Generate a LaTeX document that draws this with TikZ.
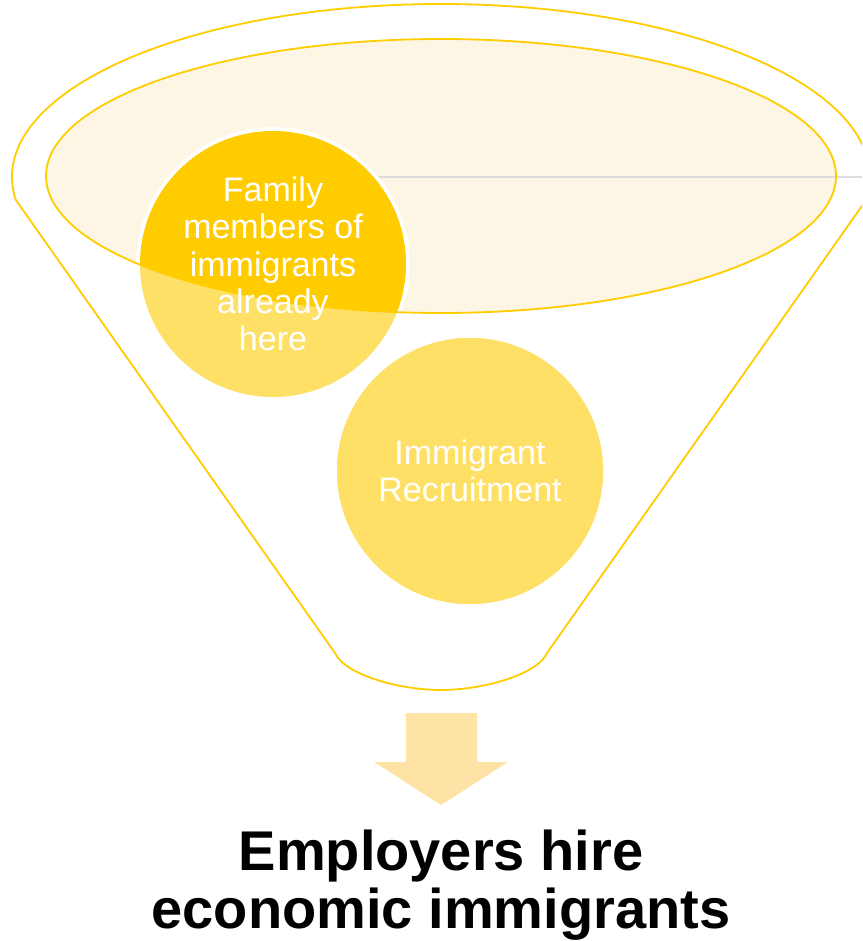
\documentclass[tikz,border=0pt]{standalone}
\usepackage{fontspec}
\setmainfont{Liberation Sans}
\definecolor{funnelyellow}{HTML}{FFCC00}
\definecolor{creamfill}{HTML}{FEF6E4}
\definecolor{lightyellow}{HTML}{FFE066}
\definecolor{arrowcol}{HTML}{FFE3A6}
\definecolor{guidegray}{HTML}{DCDCDC}
\tikzset{
  funnelline/.style={draw=funnelyellow, line width=1.8},
  bubble/.style={circle, minimum size=270, inner sep=0, fill=lightyellow, draw=white, line width=3.5},
  bubbletext/.style={text=white, align=center, font=\fontsize{34}{37.3}\selectfont},
  resulttext/.style={font=\fontsize{56}{58}\selectfont\bfseries, text=black, anchor=base},
}
\begin{document}
\begin{tikzpicture}[x=1pt,y=-1pt]
\useasboundingbox (0,0) rectangle (862,941);
\clip (0,0) rectangle (862,941);
% funnel outline
\draw[funnelline] ([shift={(441,177)}]172.4:429 and 173) coordinate (fl)
  arc[start angle=172.4, end angle=367.6, x radius=429, y radius=173] coordinate (fr)
  -- (547,653) .. controls (537,675) and (482,690) .. (441,690)
  .. controls (400,690) and (345,675) .. (335,653) -- cycle;
% inner ellipse fill
\fill[creamfill] (441,176) ellipse [x radius=395, y radius=137];
% gray guide line
\coordinate (gl) at (273,177);
\coordinate (gr) at (862,177);
\draw[guidegray, line width=2] (gl) -- (gr);
% bubble 1
\node[bubble] (b1) at (273,264) {};
\begin{scope}
  \clip (441,176) ellipse [x radius=395, y radius=137];
  \fill[funnelyellow] (273,264) circle [radius=133];
\end{scope}
\draw[white, line width=3.5] (273,264) circle [radius=135];
% inner ellipse outline
\draw[funnelline] (441,176) ellipse [x radius=395, y radius=137];
\node[bubbletext] (t1) at (b1.center) {Family\\members of\\immigrants\\already\\here};
% bubble 2
\node[bubble] (b2) at (470,471) {};
\node[bubbletext] (t2) at (b2.center) {Immigrant\\Recruitment};
% arrow
\fill[arrowcol] (406,713) -- (477,713) -- (477,762) -- (508,762) -- (441,805) -- (374,762) -- (406,762) -- cycle;
% result text
\node[resulttext] (r1) at (441,870) {Employers hire};
\node[resulttext] (r2) at (441,928) {economic immigrants};
\end{tikzpicture}
\end{document}
